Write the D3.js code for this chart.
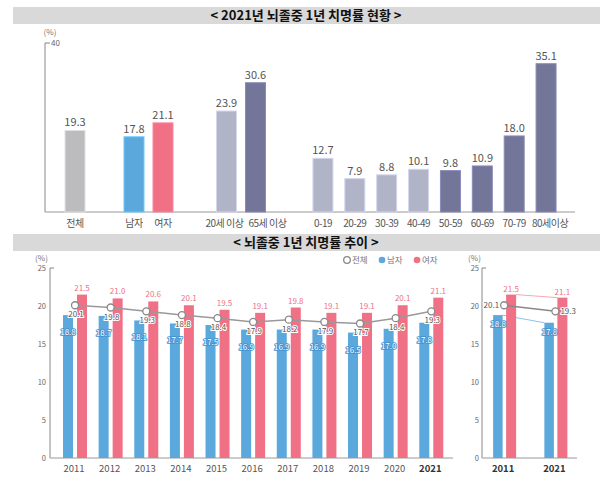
<!doctype html>
<html>
<head>
  <meta charset="utf-8">
  <style>
    body { margin: 0; background: #fff; }
    svg { display: block; font-family: "Noto Sans CJK KR", "Noto Sans", sans-serif; }
  </style>
  <script src="https://cdn.jsdelivr.net/npm/d3@7"></script>
</head>
<body>
<script>
  // ---- data: 2021 current status ----
  var topCats = ["전체", "남자", "여자", "20세 이상", "65세 이상",
                 "0-19", "20-29", "30-39", "40-49", "50-59", "60-69", "70-79", "80세이상"];
  var topValues = [19.3, 17.8, 21.1, 23.9, 30.6, 12.7, 7.9, 8.8, 10.1, 9.8, 10.9, 18.0, 35.1];
  var topGroup = [0, 1, 1, 2, 2, 3, 3, 3, 3, 3, 3, 3, 3];
  var topTicks = [40];

  // ---- data: trend ----
  var years = ["2011", "2012", "2013", "2014", "2015", "2016", "2017", "2018", "2019", "2020", "2021"];
  var totalRate  = [20.1, 19.8, 19.3, 18.8, 18.4, 17.9, 18.2, 17.9, 17.7, 18.4, 19.3];
  var maleRate   = [18.8, 18.7, 18.1, 17.7, 17.5, 16.9, 16.9, 16.9, 16.5, 17.0, 17.8];
  var femaleRate = [21.5, 21.0, 20.6, 20.1, 19.5, 19.1, 19.8, 19.1, 19.1, 20.1, 21.1];
  var bottomTicks = [0, 5, 10, 15, 20, 25];
  var compareYears = ["2011", "2021"];
  var legendNames = ["전체", "남자", "여자"];

  // colours
  var cTotal = "#bcbcbe", cMale = "#5ba8dc", cFemale = "#f07186";
  var cLight = "#b1b3c7", cDark = "#737599";
  var topColors = [cTotal, cMale, cFemale, cLight, cDark,
                   cLight, cLight, cLight, cLight, cDark, cDark, cDark, cDark];
  // small sideways nudges for long category labels
  var labelNudge = { "20세 이상": -2, "65세 이상": 12, "80세이상": 4 };

  var svg = d3.select("body").append("svg")
      .attr("width", 612)
      .attr("height", 487);

  // title bars
  function titleBar(y, txt) {
    svg.append("rect").attr("x", 13).attr("y", y).attr("width", 587).attr("height", 17)
      .attr("fill", "#d9d9d9");
    svg.append("text").attr("x", 306).attr("y", y + 13).attr("text-anchor", "middle")
      .attr("font-size", "13px").attr("font-weight", "bold").attr("fill", "#111")
      .text(txt);
  }
  titleBar(7, "< 2021년 뇌졸중 1년 치명률 현황 >");
  titleBar(234, "< 뇌졸중 1년 치명률 추이 >");

  // ================= top chart =================
  var yTop = d3.scaleLinear().domain([0, 40]).range([212, 43]);
  var groupRanges = [[60, 90], [119.5, 177.5], [212, 270], [307, 562]];
  var groupScales = groupRanges.map(function(r, g) {
    return d3.scaleBand()
      .domain(topCats.filter(function(c, i) { return topGroup[i] === g; }))
      .range(r);
  });
  function topX(i) {
    var sc = groupScales[topGroup[i]];
    return sc(topCats[i]) + sc.bandwidth() / 2;
  }
  var topBarW = 20;

  // axis
  var gTop = svg.append("g");
  gTop.append("line").attr("x1", 45).attr("x2", 45).attr("y1", yTop(40)).attr("y2", yTop(0))
    .attr("stroke", "#888");
  gTop.append("line").attr("x1", 45).attr("x2", 575).attr("y1", yTop(0)).attr("y2", yTop(0))
    .attr("stroke", "#999");
  topTicks.forEach(function(t) {
    gTop.append("line").attr("x1", 45).attr("x2", 50).attr("y1", yTop(t)).attr("y2", yTop(t))
      .attr("stroke", "#888");
    gTop.append("text").attr("x", 51).attr("y", yTop(t) + 3).attr("font-size", "8px")
      .attr("fill", "#666").text(t);
  });
  gTop.append("text").attr("x", 50).attr("y", 35).attr("text-anchor", "middle")
    .attr("font-size", "8px").attr("fill", "#777").text("(%)");

  gTop.selectAll("rect.bar").data(topValues).enter().append("rect")
    .attr("class", "bar")
    .attr("x", function(d, i) { return topX(i) - topBarW / 2; })
    .attr("y", function(d) { return yTop(d); })
    .attr("width", topBarW)
    .attr("height", function(d) { return yTop(0) - yTop(d); })
    .attr("fill", function(d, i) { return topColors[i]; })
    .attr("stroke", function(d, i) { return d3.color(topColors[i]).brighter(0.5); })
    .attr("stroke-width", 1);

  gTop.selectAll("text.val").data(topValues).enter().append("text")
    .attr("class", "val")
    .attr("x", function(d, i) { return topX(i); })
    .attr("y", function(d) { return yTop(d) - 4; })
    .attr("text-anchor", "middle")
    .attr("font-size", "11px")
    .attr("fill", "#555")
    .text(function(d) { return d.toFixed(1); });

  gTop.selectAll("text.cat").data(topCats).enter().append("text")
    .attr("class", "cat")
    .attr("x", function(d, i) { return topX(i) + (labelNudge[d] || 0); })
    .attr("y", 227)
    .attr("text-anchor", "middle")
    .attr("font-size", "10px")
    .attr("letter-spacing", "-0.5px")
    .attr("fill", "#555")
    .text(function(d) { return d; });

  // ================= bottom main chart =================
  var yBot = d3.scaleLinear().domain([0, 25]).range([458, 268]);
  var xYear = d3.scaleBand().domain(years).range([57.2, 449.1]);
  function yc(d) { return xYear(d) + xYear.bandwidth() / 2; }

  var gB = svg.append("g");
  gB.append("line").attr("x1", 50).attr("x2", 50).attr("y1", yBot(25)).attr("y2", yBot(0))
    .attr("stroke", "#888");
  gB.append("line").attr("x1", 50).attr("x2", 453).attr("y1", yBot(0)).attr("y2", yBot(0))
    .attr("stroke", "#999");
  gB.append("line").attr("x1", 50).attr("x2", 54).attr("y1", yBot(25)).attr("y2", yBot(25))
    .attr("stroke", "#888");
  gB.selectAll("text.tick").data(bottomTicks).enter().append("text")
    .attr("class", "tick")
    .attr("x", 46).attr("y", function(d) { return yBot(d) + 3; })
    .attr("text-anchor", "end").attr("font-size", "7.5px").attr("fill", "#666")
    .text(function(d) { return d; });
  gB.append("text").attr("x", 41.5).attr("y", 261).attr("text-anchor", "middle")
    .attr("font-size", "8px").attr("fill", "#777").text("(%)");

  gB.selectAll("rect.m").data(maleRate).enter().append("rect")
    .attr("class", "m")
    .attr("x", function(d, i) { return yc(years[i]) - 12; })
    .attr("y", function(d) { return yBot(d); })
    .attr("width", 10)
    .attr("height", function(d) { return yBot(0) - yBot(d); })
    .attr("fill", cMale);
  gB.selectAll("rect.f").data(femaleRate).enter().append("rect")
    .attr("class", "f")
    .attr("x", function(d, i) { return yc(years[i]) + 2; })
    .attr("y", function(d) { return yBot(d); })
    .attr("width", 10)
    .attr("height", function(d) { return yBot(0) - yBot(d); })
    .attr("fill", cFemale);

  var line = d3.line()
    .x(function(d, i) { return yc(years[i]); })
    .y(function(d) { return yBot(d); });
  gB.append("path").datum(totalRate).attr("d", line)
    .attr("fill", "none").attr("stroke", "#999").attr("stroke-width", 1.5);
  gB.selectAll("circle.t").data(totalRate).enter().append("circle")
    .attr("class", "t")
    .attr("cx", function(d, i) { return yc(years[i]); })
    .attr("cy", function(d) { return yBot(d); })
    .attr("r", 3.5)
    .attr("fill", "#fff").attr("stroke", "#888").attr("stroke-width", 1.3);

  // labels
  gB.selectAll("text.fl").data(femaleRate).enter().append("text")
    .attr("class", "fl")
    .attr("x", function(d, i) { return yc(years[i]) + 7; })
    .attr("y", function(d) { return yBot(d) - 4; })
    .attr("text-anchor", "middle").attr("font-size", "8px").attr("fill", cFemale)
    .text(function(d) { return d.toFixed(1); });
  gB.selectAll("text.ml").data(maleRate).enter().append("text")
    .attr("class", "ml")
    .attr("x", function(d, i) { return yc(years[i]) - 7; })
    .attr("y", function(d) { return yBot(d) + 20; })
    .attr("text-anchor", "middle").attr("font-size", "8px")
    .attr("fill", "#fff").attr("stroke", "#3f8fcf").attr("stroke-width", 1.6)
    .attr("paint-order", "stroke")
    .text(function(d) { return d.toFixed(1); });
  gB.selectAll("text.tl").data(totalRate).enter().append("text")
    .attr("class", "tl")
    .attr("x", function(d, i) { return yc(years[i]) + 1; })
    .attr("y", function(d) { return yBot(d) + 12; })
    .attr("text-anchor", "middle").attr("font-size", "8px")
    .attr("fill", "#555").attr("stroke", "#fff").attr("stroke-width", 2)
    .attr("paint-order", "stroke")
    .text(function(d) { return d.toFixed(1); });

  gB.selectAll("text.yr").data(years).enter().append("text")
    .attr("class", "yr")
    .attr("x", function(d) { return yc(d) - 1; })
    .attr("y", 472)
    .attr("text-anchor", "middle").attr("font-size", "9.5px")
    .attr("font-weight", function(d) { return d === "2021" ? "bold" : "normal"; })
    .attr("fill", function(d) { return d === "2021" ? "#333" : "#555"; })
    .text(function(d) { return d; });

  // legend
  var legX = d3.scalePoint().domain(legendNames).range([347, 417]);
  var legColors = ["#fff", cMale, cFemale];
  legendNames.forEach(function(n, i) {
    gB.append("circle").attr("cx", legX(n)).attr("cy", 260).attr("r", 3.3)
      .attr("fill", legColors[i])
      .attr("stroke", i === 0 ? "#888" : "none").attr("stroke-width", 1.3);
    gB.append("text").attr("x", legX(n) + 5).attr("y", 263).attr("font-size", "8.5px")
      .attr("fill", "#777").text(n);
  });

  // ================= bottom small chart =================
  var xCmp = d3.scaleBand().domain(compareYears).range([478.5, 581]);
  function cc(d) { return xCmp(d) + xCmp.bandwidth() / 2; }
  var idx = compareYears.map(function(y) { return years.indexOf(y); });
  var cmpMale = idx.map(function(i) { return maleRate[i]; });
  var cmpFemale = idx.map(function(i) { return femaleRate[i]; });
  var cmpTotal = idx.map(function(i) { return totalRate[i]; });

  var gS = svg.append("g");
  gS.append("line").attr("x1", 482).attr("x2", 482).attr("y1", yBot(25)).attr("y2", yBot(0))
    .attr("stroke", "#888");
  gS.append("line").attr("x1", 482).attr("x2", 577).attr("y1", yBot(0)).attr("y2", yBot(0))
    .attr("stroke", "#999");
  gS.append("line").attr("x1", 482).attr("x2", 486).attr("y1", yBot(25)).attr("y2", yBot(25))
    .attr("stroke", "#888");
  gS.selectAll("text.tick").data(bottomTicks).enter().append("text")
    .attr("class", "tick")
    .attr("x", 479).attr("y", function(d) { return yBot(d) + 3; })
    .attr("text-anchor", "end").attr("font-size", "7.5px").attr("fill", "#666")
    .text(function(d) { return d; });
  gS.append("text").attr("x", 474.5).attr("y", 261).attr("text-anchor", "middle")
    .attr("font-size", "8px").attr("fill", "#777").text("(%)");

  // connecting lines between bar tops
  gS.append("line")
    .attr("x1", cc("2011") - 2).attr("y1", yBot(cmpMale[0]))
    .attr("x2", cc("2021") - 11).attr("y2", yBot(cmpMale[1]))
    .attr("stroke", "#8cc3ea").attr("stroke-width", 1);
  gS.append("line")
    .attr("x1", cc("2011") + 12).attr("y1", yBot(cmpFemale[0]))
    .attr("x2", cc("2021") + 2).attr("y2", yBot(cmpFemale[1]))
    .attr("stroke", "#f6a7b4").attr("stroke-width", 1);

  gS.selectAll("rect.m").data(cmpMale).enter().append("rect")
    .attr("class", "m")
    .attr("x", function(d, i) { return cc(compareYears[i]) - 11; })
    .attr("y", function(d) { return yBot(d); })
    .attr("width", 9.5)
    .attr("height", function(d) { return yBot(0) - yBot(d); })
    .attr("fill", cMale);
  gS.selectAll("rect.f").data(cmpFemale).enter().append("rect")
    .attr("class", "f")
    .attr("x", function(d, i) { return cc(compareYears[i]) + 2; })
    .attr("y", function(d) { return yBot(d); })
    .attr("width", 10)
    .attr("height", function(d) { return yBot(0) - yBot(d); })
    .attr("fill", cFemale);

  var cLine = d3.line()
    .x(function(d, i) { return cc(compareYears[i]); })
    .y(function(d) { return yBot(d); });
  gS.append("path").datum(cmpTotal).attr("d", cLine)
    .attr("fill", "none").attr("stroke", "#888").attr("stroke-width", 1.5);
  gS.selectAll("circle.t").data(cmpTotal).enter().append("circle")
    .attr("class", "t")
    .attr("cx", function(d, i) { return cc(compareYears[i]); })
    .attr("cy", function(d) { return yBot(d); })
    .attr("r", 3.5)
    .attr("fill", "#fff").attr("stroke", "#888").attr("stroke-width", 1.3);

  gS.selectAll("text.fl").data(cmpFemale).enter().append("text")
    .attr("class", "fl")
    .attr("x", function(d, i) { return cc(compareYears[i]) + 7; })
    .attr("y", function(d) { return yBot(d) - 3; })
    .attr("text-anchor", "middle").attr("font-size", "8px").attr("fill", cFemale)
    .text(function(d) { return d.toFixed(1); });
  gS.selectAll("text.ml").data(cmpMale).enter().append("text")
    .attr("class", "ml")
    .attr("x", function(d, i) { return cc(compareYears[i]) - 6; })
    .attr("y", function(d) { return yBot(d) + 12; })
    .attr("text-anchor", "middle").attr("font-size", "8px")
    .attr("fill", "#fff").attr("stroke", "#3f8fcf").attr("stroke-width", 1.6)
    .attr("paint-order", "stroke")
    .text(function(d) { return d.toFixed(1); });
  gS.selectAll("text.tl").data(cmpTotal).enter().append("text")
    .attr("class", "tl")
    .attr("x", function(d, i) { return cc(compareYears[i]) + (i === 0 ? -5 : 5); })
    .attr("y", function(d) { return yBot(d) + 3; })
    .attr("text-anchor", function(d, i) { return i === 0 ? "end" : "start"; })
    .attr("font-size", "8px")
    .attr("fill", "#555").attr("stroke", "#fff").attr("stroke-width", 2)
    .attr("paint-order", "stroke")
    .text(function(d) { return d.toFixed(1); });

  gS.selectAll("text.yr").data(compareYears).enter().append("text")
    .attr("class", "yr")
    .attr("x", function(d) { return cc(d) - 1; })
    .attr("y", 472)
    .attr("text-anchor", "middle").attr("font-size", "9.5px").attr("font-weight", "bold")
    .attr("fill", "#333")
    .text(function(d) { return d; });
</script>
</body>
</html>
